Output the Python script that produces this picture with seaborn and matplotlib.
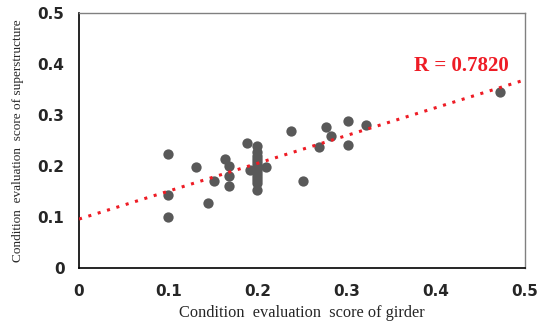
import numpy as np
import pandas as pd
import matplotlib
matplotlib.use("Agg")
import matplotlib.pyplot as plt
import seaborn as sns

girder = [0.10, 0.10, 0.10, 0.131, 0.145, 0.151, 0.164, 0.168, 0.168, 0.168,
          0.188, 0.192,
          0.20, 0.20, 0.20, 0.20, 0.20, 0.20, 0.20, 0.20, 0.20, 0.20, 0.20, 0.20, 0.20,
          0.21, 0.238, 0.251, 0.269, 0.277, 0.282, 0.302, 0.302, 0.322, 0.472]
superstructure = [0.224, 0.143, 0.100, 0.198, 0.127, 0.171, 0.214, 0.200, 0.180, 0.161,
                  0.245, 0.192,
                  0.239, 0.227, 0.220, 0.214, 0.208, 0.202, 0.196, 0.190, 0.184, 0.178, 0.172, 0.166, 0.153,
                  0.198, 0.269, 0.171, 0.237, 0.277, 0.259, 0.288, 0.241, 0.280, 0.345]
fit_intercept = 0.096
fit_slope = 0.546
r_label = "R = 0.7820"
ticks = [0, 0.1, 0.2, 0.3, 0.4, 0.5]
tick_labels = ["0", "0.1", "0.2", "0.3", "0.4", "0.5"]

df = pd.DataFrame({"girder": girder, "superstructure": superstructure})

sns.set_style("white")
fig = plt.figure(figsize=(5.39, 3.21), dpi=100)
ax = fig.add_axes([0.1466, 0.165, 0.8274, 0.7945])

sns.scatterplot(data=df, x="girder", y="superstructure", ax=ax, color="#595959",
                s=55, linewidth=0, zorder=3)
xs = np.array([0.0, 0.5])
ax.plot(xs, fit_intercept + fit_slope * xs, linestyle=(0, (1, 2.2)), color="#ee1c25",
        linewidth=2.2, zorder=4)

ax.set_xlim(0, 0.5)
ax.set_ylim(0, 0.5)
ax.set_xticks(ticks)
ax.set_yticks(ticks)
ax.set_xticklabels(tick_labels, fontsize=11, fontweight="bold", family="DejaVu Sans")
ax.set_yticklabels(tick_labels, fontsize=11, fontweight="bold", family="DejaVu Sans")
ax.tick_params(axis="both", direction="out", length=4.5, width=1, color="black")
ax.tick_params(axis="y", pad=6)
ax.tick_params(axis="x", pad=7)
for side in ["left", "bottom"]:
    ax.spines[side].set_color("black")
    ax.spines[side].set_linewidth(1.2)
for side in ["top", "right"]:
    ax.spines[side].set_color("#808080")
    ax.spines[side].set_linewidth(1.0)

ax.set_xlabel("Condition  evaluation  score of girder", fontsize=11.8,
              family="Liberation Serif", labelpad=4)
ax.set_ylabel("Condition  evaluation  score of superstructure", fontsize=9.5,
              family="Liberation Serif", labelpad=10)
ax.text(0.429, 0.396, r_label, color="#ee1c25", fontsize=15, fontweight="bold",
        family="Liberation Serif", ha="center", va="center")

fig.savefig("out.png", dpi=100)
